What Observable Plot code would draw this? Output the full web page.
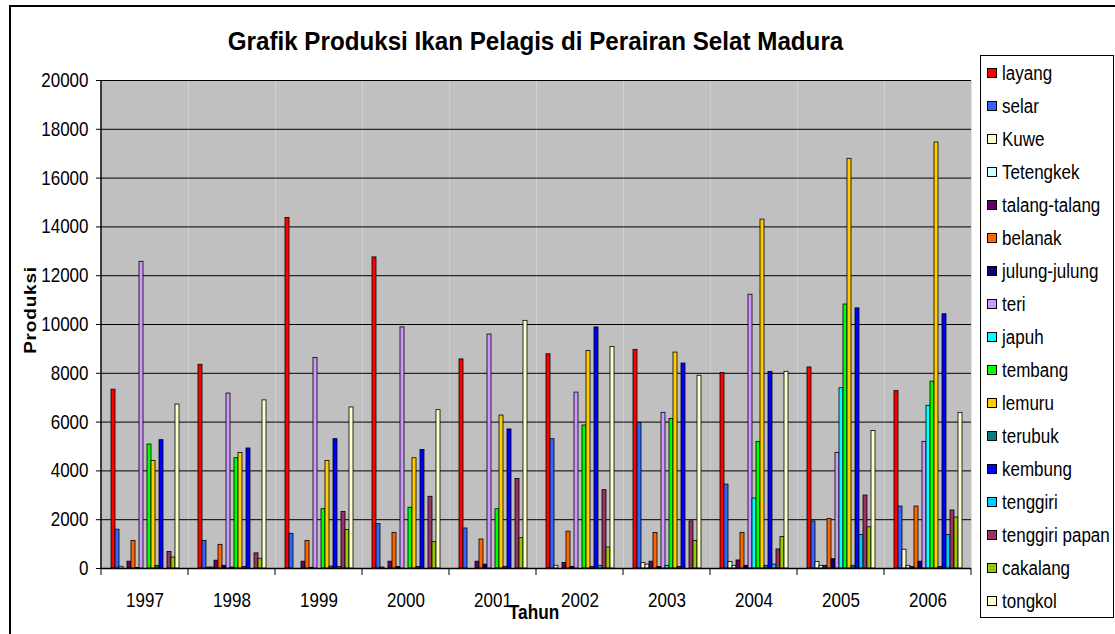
<!DOCTYPE html>
<html>
<head>
<meta charset="utf-8">
<script src="https://cdn.jsdelivr.net/npm/d3@7"></script>
<script src="https://cdn.jsdelivr.net/npm/@observablehq/plot@0.6"></script>
<style>
  body { margin: 0; background: #fff; font-family: "Liberation Sans", Arial, sans-serif; }
  #wrap { position: relative; width: 1115px; height: 634px; overflow: hidden; background: #fff; }
  #frame { position: absolute; left: 9px; top: 5px; width: 1200px; height: 700px; border-top: 2px solid #000; border-left: 2px solid #000; }
  #title { position: absolute; left: 96px; width: 879px; top: 26px; text-align: center; font-weight: bold; font-size: 26px; color: #000; transform: scaleX(0.93); transform-origin: 50% 50%; white-space: nowrap; }
  #ylab { position: absolute; left: 31px; top: 310px; transform: translate(-50%, -50%) rotate(-90deg) scaleY(0.85); font-weight: bold; font-size: 19px; letter-spacing: 0.8px; white-space: nowrap; }
  #xlab { position: absolute; left: 534px; top: 612px; transform: translate(-50%, -50%) scaleX(0.82); font-weight: bold; font-size: 21px; }
  #legend { position: absolute; left: 980px; top: 55px; width: 134px; height: 563px; border: 1px solid #000; background: #fff; box-sizing: border-box; }
  .item { position: absolute; left: 6px; font-size: 20px; line-height: 20px; white-space: nowrap; }
  .sw { display: inline-block; width: 8px; height: 8px; border: 1px solid #000; margin-right: 5px; vertical-align: 2px; }
  .lt { display: inline-block; transform: scaleX(0.85); transform-origin: 0 50%; }
  #plot { position: absolute; left: 0; top: 0; }
</style>
</head>
<body>
<div id="wrap">
  <div id="frame"></div>
  <div id="plot"></div>
  <div id="title">Grafik Produksi Ikan Pelagis di Perairan Selat Madura</div>
  <div id="ylab">Produksi</div>
  <div id="xlab">Tahun</div>
  <div id="legend"></div>
</div>
<script>
const years = ["1997","1998","1999","2000","2001","2002","2003","2004","2005","2006"];
const series = ["layang","selar","Kuwe","Tetengkek","talang-talang","belanak","julung-julung","teri","japuh","tembang","lemuru","terubuk","kembung","tenggiri","tenggiri papan","cakalang","tongkol"];
const colors = ["#ff0000","#3366ff","#ffffcc","#ccffff","#660066","#ff6600","#000080","#cc99ff","#00ffff","#00ff00","#ffcc00","#008080","#0000ff","#00ccff","#993366","#99cc00","#ffffcc"];
const yTicks = [0,2000,4000,6000,8000,10000,12000,14000,16000,18000,20000];

const layang        = [7330, 8350, 14370, 12750, 8570, 8780, 8960, 8010, 8240, 7270];
const selar         = [1590, 1130, 1420, 1820, 1640, 5300, 5970, 3440, 1930, 2540];
const kuwe          = [70, 40, 0, 40, 0, 110, 220, 270, 270, 770];
const tetengkek     = [0, 40, 0, 0, 0, 0, 160, 110, 110, 110];
const talang        = [280, 320, 280, 280, 280, 230, 280, 330, 110, 60];
const belanak       = [1130, 970, 1130, 1460, 1190, 1510, 1460, 1460, 2030, 2540];
const julung        = [20, 110, 30, 60, 160, 60, 60, 110, 380, 280];
const teri          = [12570, 7170, 8630, 9880, 9590, 7210, 6380, 11220, 4740, 5190];
const japuh         = [0, 40, 0, 0, 0, 0, 110, 2870, 7390, 6670];
const tembang       = [5080, 4520, 2430, 2490, 2430, 5860, 6130, 5190, 10820, 7660];
const lemuru        = [4410, 4740, 4410, 4520, 6270, 8910, 8850, 14300, 16790, 17460];
const terubuk       = [100, 60, 80, 60, 70, 60, 60, 110, 110, 60];
const kembung       = [5260, 4920, 5300, 4860, 5700, 9880, 8400, 8060, 10660, 10420];
const tenggiri      = [0, 0, 60, 0, 0, 110, 0, 160, 1370, 1370];
const tenggiriPapan = [680, 620, 2320, 2940, 3670, 3210, 1930, 780, 2990, 2380];
const cakalang      = [450, 400, 1580, 1080, 1240, 860, 1130, 1290, 1690, 2090];
const tongkol       = [6720, 6890, 6600, 6490, 10150, 9080, 7900, 8060, 5640, 6380];

const seriesValues = [layang, selar, kuwe, tetengkek, talang, belanak, julung, teri, japuh, tembang, lemuru, terubuk, kembung, tenggiri, tenggiriPapan, cakalang, tongkol];

const data = [];
years.forEach((yr, i) => {
  series.forEach((s, j) => data.push({year: yr, series: s, value: seriesValues[j][i]}));
});

const W = 1115, H = 634;
const mL = 96, mR = 140, mT = 80, mB = 66;

const plot = Plot.plot({
  width: W, height: H,
  marginLeft: mL, marginRight: mR, marginTop: mT, marginBottom: mB,
  style: { fontFamily: "'Liberation Sans', Arial, sans-serif", background: "transparent", color: "#000" },
  fx: { domain: years, paddingInner: 0, paddingOuter: 0, label: null },
  x: { domain: series, paddingInner: 0, paddingOuter: 0.5, axis: null },
  y: { domain: [0, 20000], label: null },
  color: { domain: series, range: colors },
  marks: [
    Plot.frame({ fill: "#c0c0c0", stroke: null }),
    Plot.gridY(yTicks, { stroke: "#000", strokeOpacity: 1, strokeWidth: 1 }),
    Plot.axisY(yTicks, { tickSize: 5, tickPadding: 8, fontSize: 20, tickFormat: d => String(d), label: null }),
    Plot.axisFx({ anchor: "bottom", tickSize: 0, tickPadding: 24, fontSize: 20, label: null }),
    Plot.barY(data, { fx: "year", x: "series", y: "value", fill: "series", stroke: "#000", strokeWidth: 0.8 }),
    Plot.ruleY([0], { stroke: "#000", strokeWidth: 1.5 })
  ]
});
document.getElementById("plot").appendChild(plot);

// axis line and group boundary ticks, placed through the plot's own scales
const fx = plot.scale("fx"), ys = plot.scale("y");
const svg = d3.select(plot);
const y0 = ys.apply(0), y1 = ys.apply(20000);
const x0 = fx.apply(years[0]);
svg.append("line").attr("x1", x0).attr("x2", x0).attr("y1", y1).attr("y2", y0 + 0.5).attr("stroke", "#000").attr("stroke-width", 1.5);
const bounds = years.map(y => fx.apply(y)).concat([fx.apply(years[years.length - 1]) + fx.bandwidth]);
bounds.forEach(b => {
  svg.append("line").attr("x1", b).attr("x2", b).attr("y1", y0).attr("y2", y0 + 7).attr("stroke", "#000").attr("stroke-width", 1);
});

// condense the axis labels horizontally (the reference uses a narrow face)
plot.querySelectorAll("text").forEach(t => {
  const r = t.getBoundingClientRect();
  const anchor = getComputedStyle(t).textAnchor;
  const sx = anchor === "end" ? r.right : anchor === "middle" ? (r.left + r.right) / 2 : r.left;
  const m = t.parentNode.getScreenCTM().inverse();
  const p = new DOMPoint(sx, r.top).matrixTransform(m);
  const ax = p.x;
  const g = document.createElementNS("http://www.w3.org/2000/svg", "g");
  g.setAttribute("transform", `translate(${ax},0) scale(0.85,1) translate(${-ax},0)`);
  t.parentNode.insertBefore(g, t);
  g.appendChild(t);
});

// legend
const leg = document.getElementById("legend");
series.forEach((s, i) => {
  const d = document.createElement("div");
  d.className = "item";
  d.style.top = (7 + i * 33) + "px";
  d.innerHTML = `<span class="sw" style="background:${colors[i]}"></span><span class="lt">${s}</span>`;
  leg.appendChild(d);
});
</script>
</body>
</html>
